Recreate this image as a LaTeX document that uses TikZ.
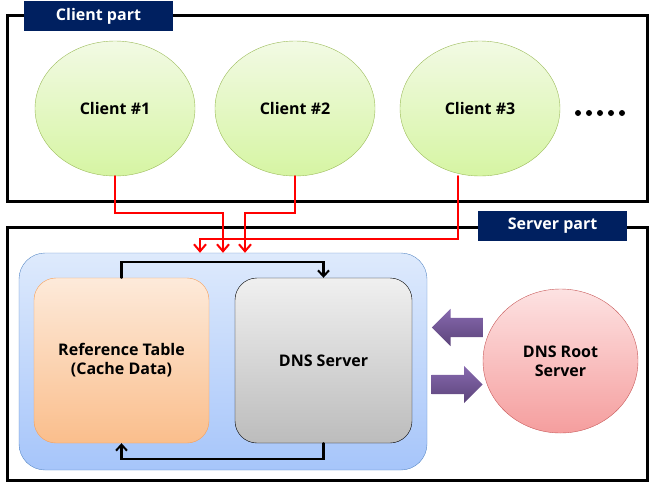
\documentclass[tikz,border=0pt]{standalone}
\usepackage{fontspec}
\setmainfont{Open Sans}
\usetikzlibrary{shapes.geometric,shapes.arrows,arrows.meta}
\definecolor{navy}{RGB}{0,32,96}
\definecolor{redline}{RGB}{255,0,0}
\begin{document}
\begin{tikzpicture}[x=1pt, y=-1pt, font=\fontsize{16}{19}\selectfont\bfseries, line cap=round,
	partbox/.style={draw, line width=3pt, line join=miter},
	partlabel/.style={fill=navy, text=white, minimum width=149pt, minimum height=30pt, inner sep=0pt},
	client/.style={ellipse, draw={rgb,255:red,155;green,187;blue,89}, top color={rgb,255:red,242;green,250;blue,228}, bottom color={rgb,255:red,214;green,245;blue,163}, minimum width=160pt, minimum height=135pt, inner sep=0pt},
	req/.style={draw=redline, line width=2.2pt, line join=miter, -{Straight Barb[length=7pt,width=12pt,line width=2pt]}},
	flow/.style={draw, line width=2.2pt, line join=miter, -{Straight Barb[length=6pt,width=11pt,line width=2pt]}},
	fat/.style={single arrow, draw=none, top color={rgb,255:red,135;green,105;blue,175}, bottom color={rgb,255:red,92;green,68;blue,122}, minimum height=51pt, inner xsep=0pt, inner ysep=9.5pt, single arrow head extend=9pt}]
	\useasboundingbox (0,0) rectangle (656,491);
	% Client part
	\draw[partbox] (7,15) rectangle (647,201);
	\node[partlabel] (clientpart) at (98.5,16) {Client part};
	\node[client] (c1) at (115,108.5) {Client \#1};
	\node[client] (c2) at (295,108.5) {Client \#2};
	\node[client] (c3) at (480,108.5) {Client \#3};
	\foreach \i in {0,...,4} \fill (578+11*\i,113) circle (3);
	% Server part
	\draw[partbox] (7,227) rectangle (647,480);
	\node[partlabel] (serverpart) at (552.5,226) {Server part};
	\node[draw={rgb,255:red,90;green,138;blue,198}, rounded corners=26pt, top color={rgb,255:red,222;green,234;blue,252}, bottom color={rgb,255:red,166;green,197;blue,250}, minimum width=408pt, minimum height=217pt] (host) at (223,361.5) {};
	\node[draw={rgb,255:red,247;green,160;blue,90}, rounded corners=22pt, top color={rgb,255:red,253;green,234;blue,218}, bottom color={rgb,255:red,250;green,190;blue,140}, minimum width=175pt, minimum height=165pt, align=center] (cache) at (121.5,360.5) {Reference Table\\(Cache Data)};
	\node[draw, rounded corners=22pt, top color={rgb,255:red,240;green,240;blue,240}, bottom color={rgb,255:red,188;green,188;blue,188}, minimum width=177pt, minimum height=165pt] (dns) at (323.5,360.5) {DNS Server};
	\node[ellipse, draw={rgb,255:red,200;green,90;blue,90}, top color={rgb,255:red,253;green,226;blue,226}, bottom color={rgb,255:red,245;green,158;blue,158}, minimum width=155pt, minimum height=144pt, inner sep=0pt, align=center] (root) at (560.5,361) {DNS Root\\Server};
	\node[fat, shape border rotate=180, anchor=tail] (fromroot) at (483,327.5) {};
	\node[fat, anchor=tip] (toroot) at (483,384.5) {};
	% requests
	\draw[req] (c1.south) -- ++(0,37) -| (host.north);
	\draw[req] (c2.south) -- ++(0,37) -| ([xshift=22pt]host.north);
	\draw[req] ([xshift=-22pt]c3.south) -- ++(0,63) -| ([xshift=-23pt]host.north);
	% cache loop
	\draw[flow] (cache.north) -- ++(0,-16) -| (dns.north);
	\draw[flow] (dns.south) -- ++(0,16) -| (cache.south);
\end{tikzpicture}
\end{document}
